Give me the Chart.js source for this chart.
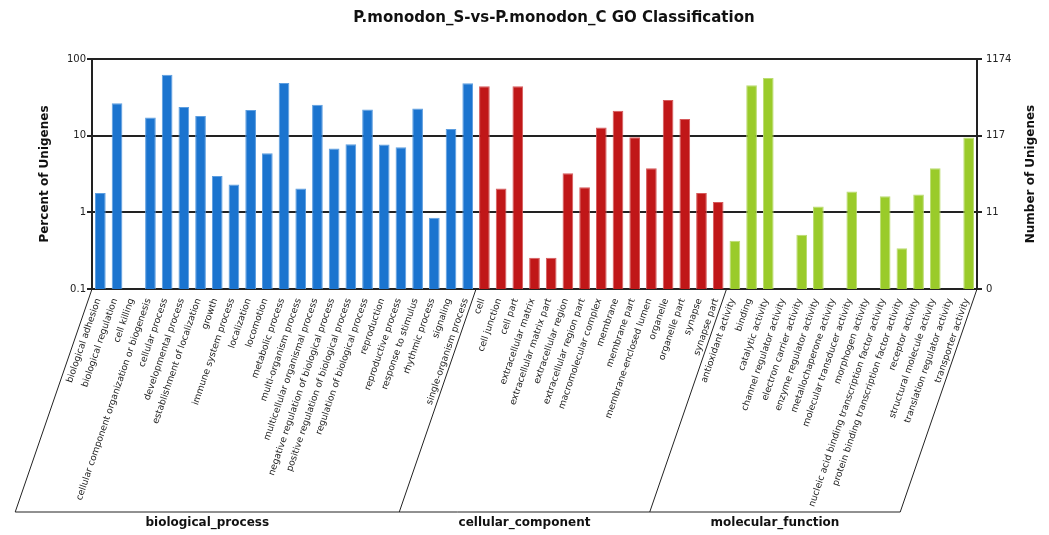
<!DOCTYPE html>
<html>
<head>
<meta charset="utf-8">
<script src="https://cdn.jsdelivr.net/npm/chart.js@4.4.0/dist/chart.umd.min.js"></script>
<style>
  body { margin: 0; background: #fff; }
  #wrap { width: 1049px; height: 535px; }
</style>
</head>
<body>
<div id="wrap"><canvas id="goChart" width="1049" height="535"></canvas></div>
<script>
// total unigenes annotated (right axis top)
var totalUnigenes = 1174;

var bpTerms = ['biological adhesion', 'biological regulation', 'cell killing',
  'cellular component organization or biogenesis', 'cellular process', 'developmental process',
  'establishment of localization', 'growth', 'immune system process', 'localization', 'locomotion',
  'metabolic process', 'multi-organism process', 'multicellular organismal process',
  'negative regulation of biological process', 'positive regulation of biological process',
  'regulation of biological process', 'reproduction', 'reproductive process', 'response to stimulus',
  'rhythmic process', 'signaling', 'single-organism process'];
var bpCounts = [21, 310, 0, 202, 734, 277, 212, 35, 27, 254, 69, 571, 24, 298, 80, 91, 258, 90, 83, 266, 10, 143, 566];

var ccTerms = ['cell', 'cell junction', 'cell part', 'extracellular matrix', 'extracellular matrix part',
  'extracellular region', 'extracellular region part', 'macromolecular complex', 'membrane', 'membrane part',
  'membrane-enclosed lumen', 'organelle', 'organelle part', 'synapse', 'synapse part'];
var ccCounts = [517, 24, 517, 3, 3, 38, 25, 150, 249, 112, 44, 343, 194, 21, 16];

var mfTerms = ['antioxidant activity', 'binding', 'catalytic activity', 'channel regulator activity',
  'electron carrier activity', 'enzyme regulator activity', 'metallochaperone activity',
  'molecular transducer activity', 'morphogen activity',
  'nucleic acid binding transcription factor activity', 'protein binding transcription factor activity',
  'receptor activity', 'structural molecule activity', 'translation regulator activity', 'transporter activity'];
var mfCounts = [5, 533, 663, 0, 6, 14, 0, 22, 0, 19, 4, 20, 44, 0, 111];

var tickValues = [0.1, 1, 10, 100];
var leftTicks = ['0.1', '1', '10', '100'];
var rightTicks = ['0', '11', '117', '1174'];

var groupNames = ['biological_process', 'cellular_component', 'molecular_function'];
var groupColors = ['#1b74cf', '#c01718', '#9acb2a'];
var groupEdges = ['#5d9ee0', '#d65a5b', '#bbdc72'];

var labels = bpTerms.concat(ccTerms, mfTerms);
var counts = bpCounts.concat(ccCounts, mfCounts);
var percents = counts.map(function (c) { return c > 0 ? c / totalUnigenes * 100 : null; });
var groupSizes = [bpTerms.length, ccTerms.length, mfTerms.length];

var barColors = [], edgeColors = [];
groupSizes.forEach(function (n, g) {
  for (var i = 0; i < n; i++) { barColors.push(groupColors[g]); edgeColors.push(groupEdges[g]); }
});

var lineCol = '#222';
var font = 'DejaVu Sans';
var labelAngle = 71;

// slanted group boxes, group names, title, right axis title
var goGroups = {
  id: 'goGroups',
  afterDraw: function (chart) {
    var ctx = chart.ctx, area = chart.chartArea;
    var band = (area.right - area.left) / labels.length;
    var baseY = 512;
    var slant = (baseY - area.bottom) / Math.tan(labelAngle * Math.PI / 180);
    var edges = [0];
    groupSizes.forEach(function (n) { edges.push(edges[edges.length - 1] + n); });
    ctx.save();
    ctx.strokeStyle = lineCol;
    ctx.lineWidth = 1;
    var bottoms = [];
    edges.forEach(function (e) {
      var xt = area.left + e * band;
      var xb = xt - slant;
      bottoms.push(xb);
      ctx.beginPath();
      ctx.moveTo(xt, area.bottom);
      ctx.lineTo(xb, baseY);
      ctx.stroke();
    });
    ctx.beginPath();
    ctx.moveTo(bottoms[0], baseY);
    ctx.lineTo(bottoms[bottoms.length - 1], baseY);
    ctx.stroke();

    ctx.fillStyle = '#111';
    ctx.font = 'bold 12px ' + font;
    ctx.textAlign = 'center';
    ctx.textBaseline = 'middle';
    groupNames.forEach(function (name, g) {
      ctx.fillText(name, (bottoms[g] + bottoms[g + 1]) / 2, 523);
    });

    ctx.font = 'bold 15px ' + font;
    ctx.fillText('P.monodon_S-vs-P.monodon_C GO Classification', 554, 18);

    ctx.font = 'bold 12px ' + font;
    ctx.translate(1031, (area.top + area.bottom) / 2);
    ctx.rotate(-Math.PI / 2);
    ctx.fillText('Number of Unigenes', 0, 0);
    ctx.restore();
  }
};

var ctxB = document.getElementById('goChart').getContext('2d');
var goChart = new Chart(ctxB, {
  type: 'bar',
  data: {
    labels: labels,
    datasets: [{
      data: percents,
      backgroundColor: barColors,
      borderColor: edgeColors,
      borderWidth: 1,
      barPercentage: 0.64,
      categoryPercentage: 1
    }]
  },
  options: {
    responsive: false,
    animation: false,
    layout: { padding: { top: 59, left: 0, right: 0, bottom: 0 } },
    plugins: { legend: { display: false }, title: { display: false }, tooltip: { enabled: false } },
    scales: {
      x: {
        grid: { display: false },
        border: { color: lineCol, width: 2 },
        ticks: {
          autoSkip: false, minRotation: labelAngle, maxRotation: labelAngle, padding: 0, labelOffset: -2,
          color: '#222', font: { family: font, size: 9.2 }
        },
        afterFit: function (s) { s.height = 246; }
      },
      y: {
        type: 'logarithmic', position: 'left', min: 0.1, max: 100,
        afterBuildTicks: function (s) { s.ticks = tickValues.map(function (v) { return { value: v }; }); },
        ticks: {
          callback: function (v, i) { return leftTicks[i]; },
          color: '#222', padding: 1, font: { family: font, size: 10 }
        },
        grid: { color: lineCol, lineWidth: 2, tickLength: 5 },
        border: { color: lineCol, width: 2 },
        title: {
          display: true, text: 'Percent of Unigenes', color: '#111',
          font: { family: font, size: 12, weight: 'bold' }, padding: { top: 38, bottom: 0 }
        },
        afterFit: function (s) { s.width = 92; }
      },
      y2: {
        type: 'logarithmic', position: 'right', min: 0.1, max: 100,
        afterBuildTicks: function (s) { s.ticks = tickValues.map(function (v) { return { value: v }; }); },
        ticks: {
          callback: function (v, i) { return rightTicks[i]; },
          color: '#222', padding: 4, font: { family: font, size: 10 }
        },
        grid: { drawOnChartArea: false, color: lineCol, lineWidth: 2, tickLength: 5 },
        border: { color: lineCol, width: 2 },
        afterFit: function (s) { s.width = 72; }
      }
    }
  },
  plugins: [goGroups]
});
</script>
</body>
</html>
